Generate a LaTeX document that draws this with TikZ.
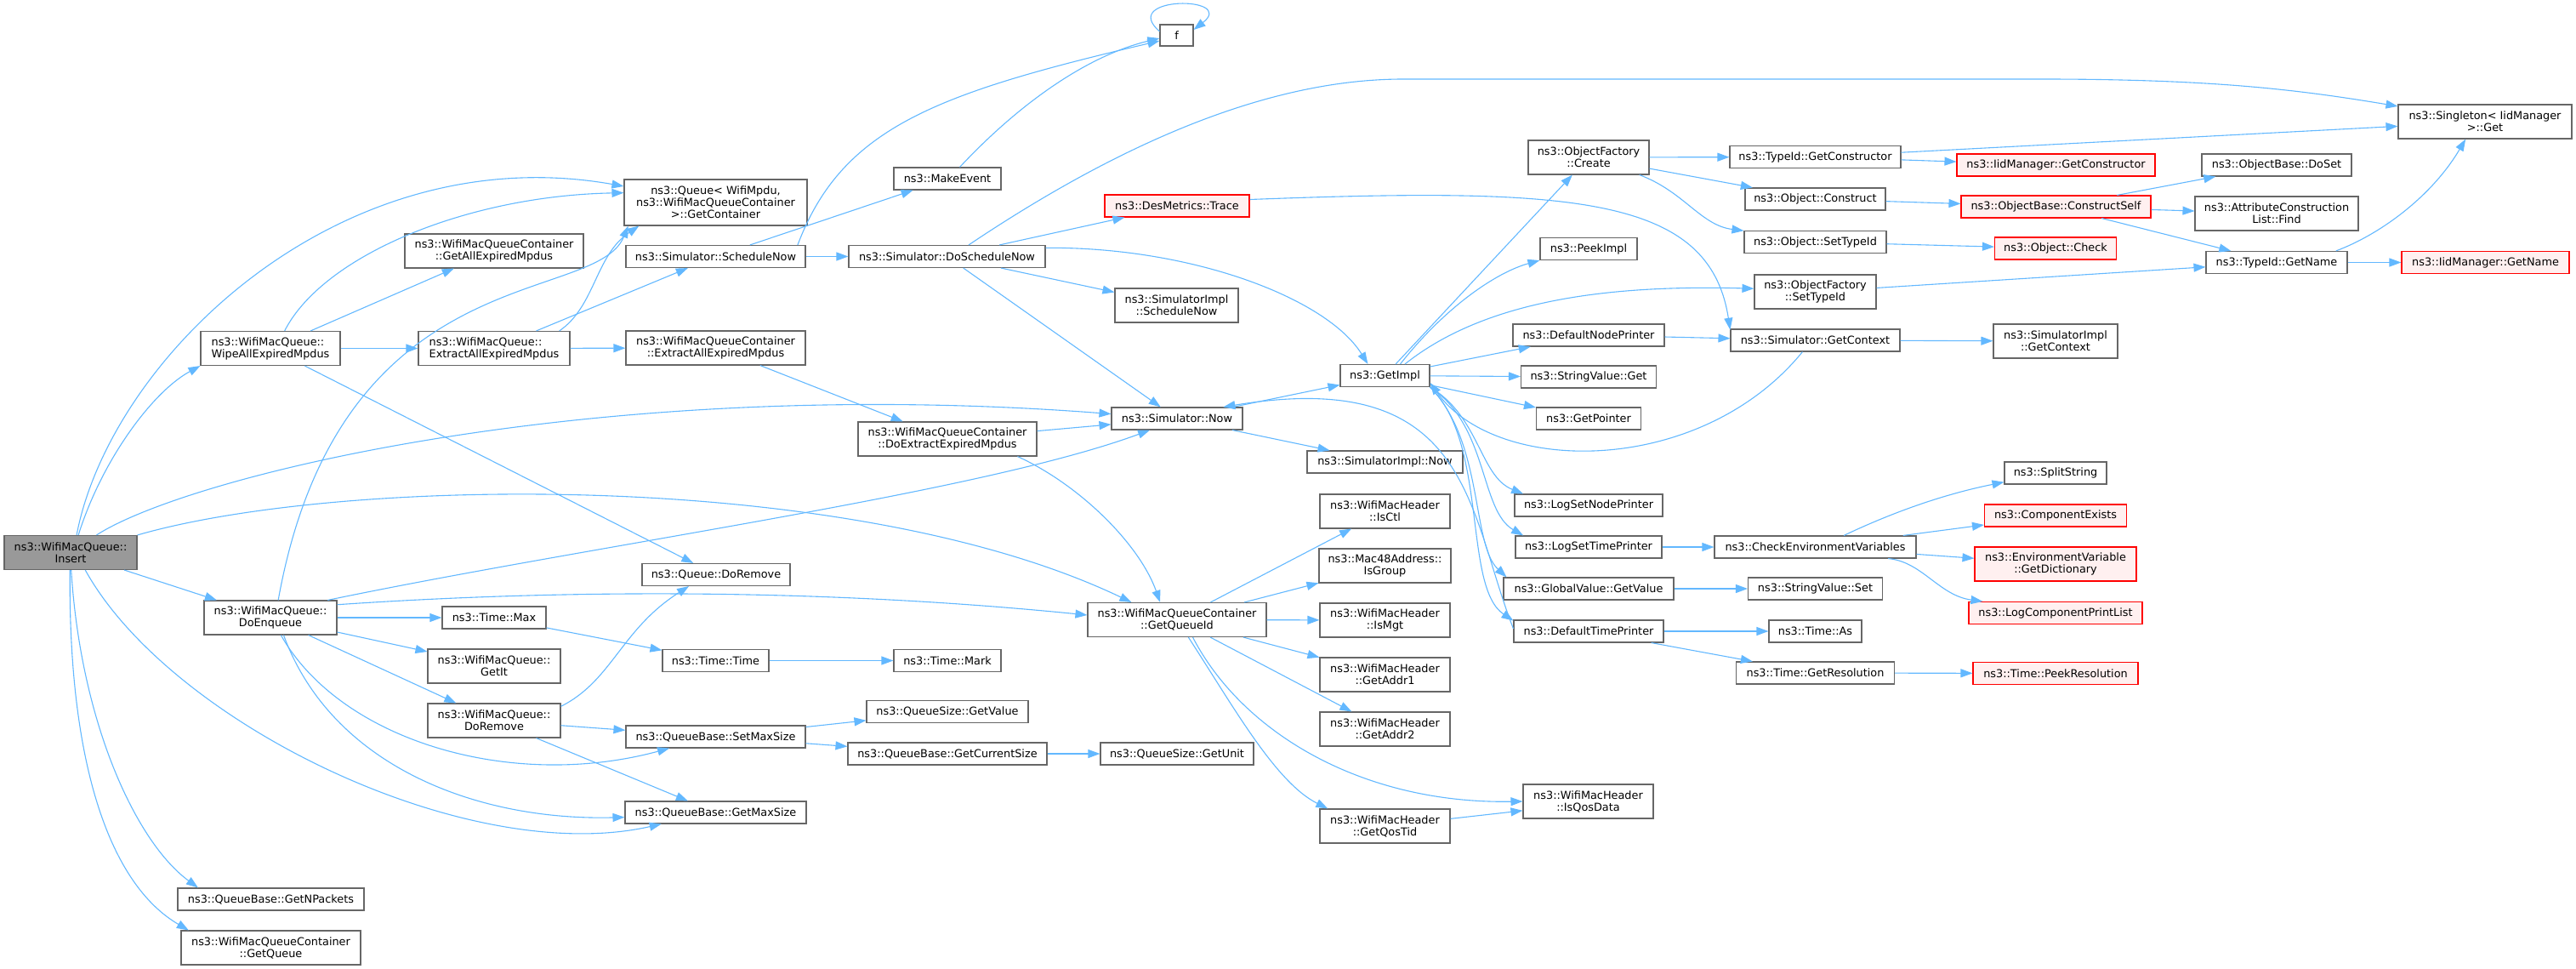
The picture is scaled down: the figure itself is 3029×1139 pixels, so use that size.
\documentclass[tikz,border=0pt]{standalone}
\usepackage{fontspec}
\setmainfont{DejaVu Sans}
\usetikzlibrary{arrows.meta}
\definecolor{edgeblue}{HTML}{63B8FF}
\definecolor{boxgray}{HTML}{666666}
\definecolor{rootgray}{HTML}{999999}
\definecolor{nodocfill}{HTML}{FFF0F0}
\newcommand{\graphfont}{\fontsize{12.85pt}{14pt}\selectfont}
\begin{document}
\begin{tikzpicture}[x=1pt, y=-1pt]
  \useasboundingbox (0,0) rectangle (3029,1139);
  \tikzstyle{every node} = [draw=boxgray, fill=white, line width=1.1pt, inner sep=0pt, align=center, minimum height=26pt, font=\graphfont]
  \tikzstyle{two} = [minimum height=40pt]
  \tikzstyle{nodoc} = [draw=red, fill=nodocfill]
  \tikzstyle{call} = [color=edgeblue, draw, line width=1.1pt, ->, >={Triangle[length=14pt, width=10pt, color=edgeblue, fill=edgeblue]}]

  \node[two, minimum width=156pt, fill=rootgray] (insert) at (83,649.5) {ns3::WifiMacQueue::\\Insert};

  \node[two, minimum width=164pt, align=left] (wipe) at (318,409.5) {ns3::WifiMacQueue::\\WipeAllExpiredMpdus};
  \node[two, minimum width=156pt] (doenqueue) at (318,726) {ns3::WifiMacQueue::\\DoEnqueue};
  \node[minimum width=219pt] (getnpackets) at (318.5,1057) {ns3::QueueBase::GetNPackets};
  \node[two, minimum width=211pt] (getqueue) at (318.5,1114) {ns3::WifiMacQueueContainer\\::GetQueue};

  \node[two, minimum width=210pt] (getallexpired) at (581,295) {ns3::WifiMacQueueContainer\\::GetAllExpiredMpdus};
  \node[two, minimum width=178pt, align=left] (extract) at (581,409.5) {ns3::WifiMacQueue::\\ExtractAllExpiredMpdus};
  \node[minimum width=122pt] (timemax) at (581,726) {ns3::Time::Max};
  \node[two, minimum width=156pt] (getit) at (581,783) {ns3::WifiMacQueue::\\GetIt};
  \node[two, minimum width=156pt] (doremove) at (581,847) {ns3::WifiMacQueue::\\DoRemove};

  \node[minimum height=54pt, minimum width=215pt] (getcontainer) at (841.5,238) {ns3::Queue< WifiMpdu,\\ ns3::WifiMacQueueContainer\\ >::GetContainer};
  \node[minimum width=211pt] (schedulenow) at (841.5,301.5) {ns3::Simulator::ScheduleNow};
  \node[two, minimum width=211pt] (cextract) at (841.5,409) {ns3::WifiMacQueueContainer\\::ExtractAllExpiredMpdus};
  \node[minimum width=174pt] (qdoremove) at (842,675.5) {ns3::Queue::DoRemove};
  \node[minimum width=125pt] (timetime) at (841.5,776.5) {ns3::Time::Time};
  \node[minimum width=211pt] (setmaxsize) at (841.5,866) {ns3::QueueBase::SetMaxSize};
  \node[minimum width=213pt] (getmaxsize) at (841.5,955) {ns3::QueueBase::GetMaxSize};

  \node[minimum width=126pt] (makeevent) at (1114,210) {ns3::MakeEvent};
  \node[minimum width=231pt] (doschedulenow) at (1113.5,301.5) {ns3::Simulator::DoScheduleNow};
  \node[two, minimum width=210pt] (doextract) at (1114,516) {ns3::WifiMacQueueContainer\\::DoExtractExpiredMpdus};
  \node[minimum width=126pt] (timemark) at (1114,776.5) {ns3::Time::Mark};
  \node[minimum width=190pt] (qsgetvalue) at (1114,836.5) {ns3::QueueSize::GetValue};
  \node[minimum width=234pt] (getcurrentsize) at (1114,886) {ns3::QueueBase::GetCurrentSize};

  \node[minimum width=39pt, minimum height=25pt] (f) at (1383.5,41.5) {f};
  \node[nodoc, minimum width=170pt] (trace) at (1384,242) {ns3::DesMetrics::Trace};
  \node[two, minimum width=145pt] (implschedulenow) at (1383.5,359) {ns3::SimulatorImpl\\::ScheduleNow};
  \node[minimum width=154pt] (now) at (1384,492) {ns3::Simulator::Now};
  \node[two, minimum width=210pt] (getqueueid) at (1384,728.5) {ns3::WifiMacQueueContainer\\::GetQueueId};
  \node[minimum width=180pt] (getunit) at (1384,886) {ns3::QueueSize::GetUnit};

  \node[minimum width=105pt] (getimpl) at (1628.5,441.5) {ns3::GetImpl};
  \node[minimum width=183pt] (implnow) at (1628.5,543) {ns3::SimulatorImpl::Now};
  \node[two, minimum width=155pt] (isgroup) at (1628.5,665) {ns3::Mac48Address::\\IsGroup};
  \foreach \n/\t/\y in {isctl/IsCtl/601, ismgt/IsMgt/729, getaddr1/GetAddr1/793, getaddr2/GetAddr2/857, getqostid/GetQosTid/971}{
    \node[two, minimum width=153pt] (\n) at (1628.5,\y) {ns3::WifiMacHeader\\::\t};
  }

  \node[two, minimum width=142pt] (create) at (1868,185) {ns3::ObjectFactory\\::Create};
  \node[minimum width=114pt] (peekimpl) at (1868,292.5) {ns3::PeekImpl};
  \node[minimum width=178pt] (nodeprinter) at (1868,394) {ns3::DefaultNodePrinter};
  \node[minimum width=159pt] (svget) at (1868,443) {ns3::StringValue::Get};
  \node[minimum width=123pt] (getpointer) at (1868,492) {ns3::GetPointer};
  \node[minimum width=174pt] (lognodeprinter) at (1868,594) {ns3::LogSetNodePrinter};
  \node[minimum width=172pt] (logtimeprinter) at (1868,643) {ns3::LogSetTimePrinter};
  \node[minimum width=200pt] (gvgetvalue) at (1868,692) {ns3::GlobalValue::GetValue};
  \node[minimum width=176pt] (timeprinter) at (1868,742) {ns3::DefaultTimePrinter};
  \node[two, minimum width=153pt] (isqosdata) at (1867.5,942) {ns3::WifiMacHeader\\::IsQosData};

  \node[minimum width=201pt] (getconstructor) at (2134.5,184.5) {ns3::TypeId::GetConstructor};
  \node[minimum width=165pt] (construct) at (2134.5,234) {ns3::Object::Construct};
  \node[minimum width=167pt] (osettypeid) at (2134.5,284.5) {ns3::Object::SetTypeId};
  \node[two, minimum width=143pt] (fsettypeid) at (2134.5,343) {ns3::ObjectFactory\\::SetTypeId};
  \node[minimum width=199pt] (getcontext) at (2134.5,400) {ns3::Simulator::GetContext};
  \node[minimum width=237pt] (checkenv) at (2134.5,643) {ns3::CheckEnvironmentVariables};
  \node[minimum width=158pt] (svset) at (2134.5,692) {ns3::StringValue::Set};
  \node[minimum width=109pt] (timeas) at (2134.5,742) {ns3::Time::As};
  \node[minimum width=186pt] (getresolution) at (2134.5,791) {ns3::Time::GetResolution};

  \node[nodoc, minimum width=233pt] (iidconstructor) at (2417.5,194) {ns3::IidManager::GetConstructor};
  \node[nodoc, minimum width=223pt] (constructself) at (2417.5,243) {ns3::ObjectBase::ConstructSelf};
  \node[nodoc, minimum width=143pt] (check) at (2417,292) {ns3::Object::Check};
  \node[two, minimum width=146pt] (implgetcontext) at (2417,401) {ns3::SimulatorImpl\\::GetContext};
  \node[minimum width=120pt] (splitstring) at (2417,556) {ns3::SplitString};
  \node[nodoc, minimum width=167pt] (compexists) at (2417,606) {ns3::ComponentExists};
  \node[nodoc, two, minimum width=190pt] (getdictionary) at (2417,663) {ns3::EnvironmentVariable\\::GetDictionary};
  \node[nodoc, minimum width=204pt] (printlist) at (2417,720.5) {ns3::LogComponentPrintList};
  \node[nodoc, minimum width=194pt] (peekresolution) at (2417,791.5) {ns3::Time::PeekResolution};

  \node[minimum width=176pt] (doset) at (2677,194) {ns3::ObjectBase::DoSet};
  \node[two, minimum width=192pt] (acfind) at (2677,251) {ns3::AttributeConstruction\\List::Find};
  \node[minimum width=166pt] (getname) at (2677,308.5) {ns3::TypeId::GetName};

  \node[two, minimum width=204pt] (singleton) at (2922,143) {ns3::Singleton< IidManager\\ >::Get};
  \node[nodoc, minimum width=197pt] (iidgetname) at (2922.5,308.5) {ns3::IidManager::GetName};

  \path[call]
  (insert) edge (doenqueue)
  (wipe) edge (getallexpired)
  (wipe) edge (extract)
  (wipe) edge (qdoremove)
  (extract) edge (cextract)
  (extract) edge (schedulenow)
  (doenqueue) edge (timemax)
  (doenqueue) edge (getit)
  (doenqueue) edge (doremove)
  (timemax) edge (timetime)
  (timetime) edge (timemark)
  (doremove) edge (setmaxsize)
  (doremove) edge (getmaxsize)
  (setmaxsize) edge (qsgetvalue)
  (setmaxsize) edge (getcurrentsize)
  (getcurrentsize) edge (getunit)
  (cextract) edge (doextract)
  (doextract) edge (now);
  \path[call]
  (schedulenow) edge (doschedulenow)
  (schedulenow) edge (makeevent)
  (doschedulenow) edge (trace)
  (doschedulenow) edge (implschedulenow)
  (doschedulenow) edge (now)
  (now) edge (getimpl)
  (now) edge (implnow);
  \path[call]
  (getimpl) edge (create)
  (getimpl) edge (nodeprinter)
  (getimpl) edge (svget)
  (getimpl) edge (getpointer)
  (create) edge (getconstructor)
  (create) edge (construct)
  (getconstructor) edge (singleton)
  (getconstructor) edge (iidconstructor)
  (construct) edge (constructself)
  (osettypeid) edge (check)
  (fsettypeid) edge (getname)
  (constructself) edge (doset)
  (constructself) edge (acfind)
  (constructself) edge (getname)
  (getname) edge (iidgetname)
  (nodeprinter) edge (getcontext)
  (getcontext) edge (implgetcontext);
  \path[call]
  (logtimeprinter) edge (checkenv)
  (checkenv) edge (compexists)
  (checkenv) edge (getdictionary)
  (gvgetvalue) edge (svset)
  (timeprinter) edge (timeas)
  (timeprinter) edge (getresolution)
  (getresolution) edge (peekresolution);
  \path[call]
  (getqueueid) edge (isctl)
  (getqueueid) edge (isgroup)
  (getqueueid) edge (ismgt)
  (getqueueid) edge (getaddr1)
  (getqueueid) edge (getaddr2)
  (getqostid) edge (isqosdata.188);

  \draw[call] (insert.71) .. controls (130,420) and (400,160) .. (getcontainer.170);
  \draw[call] (insert.66) .. controls (120,540) and (180,460) .. (wipe.south west);
  \draw[call] (insert.34) .. controls (220,560) and (700,440) .. (now.176);
  \draw[call] (insert.north east) .. controls (400,560) and (1000,550) .. (getqueueid.159);
  \draw[call] (insert.-50) .. controls (200,850) and (550,1020) .. (getmaxsize.192);
  \draw[call] (insert.-88) .. controls (95,850) and (160,990) .. (getnpackets.171);
  \draw[call] (insert.-92) .. controls (80,900) and (130,1040) .. (getqueue.168);

  \draw[call] (wipe.51) .. controls (380,300) and (550,230) .. (getcontainer.174);
  \draw[call] (extract.15) .. controls (700,360) and (700,300) .. (getcontainer.197);
  \draw[call] (doenqueue.66) .. controls (400,300) and (700,360) .. (getcontainer.195);
  \draw[call] (doenqueue.17) .. controls (700,640) and (1150,580) .. (now.203);
  \draw[call] (doenqueue.11) .. controls (700,690) and (1000,695) .. (getqueueid.177);
  \draw[call] (doenqueue.-59) .. controls (400,870) and (600,930) .. (setmaxsize.194);
  \draw[call] (doenqueue.-53) .. controls (390,900) and (560,965) .. (getmaxsize.183);
  \draw[call] (doremove.12) .. controls (720,800) and (730,740) .. (qdoremove.203);
  \draw[call] (doextract.-14) .. controls (1270,570) and (1340,640) .. (getqueueid.134);

  \draw[call] (schedulenow.8) .. controls (990,150) and (1100,110) .. (f.198);
  \draw[call] (makeevent.43) .. controls (1200,120) and (1280,65) .. (f.190);
  \draw[call] (f.167) .. controls (1315,-5) and (1455,-5) .. (f.18);
  \draw[call] (doschedulenow.28) .. controls (1300,180) and (1480,93) .. (1650,93) -- (2400,93) .. controls (2600,93) and (2700,105) .. (singleton.170);
  \draw[call] (doschedulenow.5) .. controls (1400,290) and (1560,350) .. (getimpl.146);
  \draw[call] (trace.5) .. controls (1850,220) and (2010,230) .. (getcontext.173);
  \draw[call] (timeprinter.178) .. controls (1725,600) and (1730,430) .. (now.14);
  \draw[call] (getcontext.222) .. controls (2000,560) and (1760,560) .. (getimpl.-9);

  \draw[call] (getimpl.37) .. controls (1700,360) and (1760,320) .. (peekimpl.south west);
  \draw[call] (getimpl.30) .. controls (1750,350) and (1900,335) .. (fsettypeid.177);
  \draw[call] (getimpl.south east) .. controls (1740,490) and (1740,560) .. (lognodeprinter.170);
  \draw[call] (getimpl.south east) .. controls (1750,500) and (1740,600) .. (logtimeprinter.170);
  \draw[call] (getimpl.south east) .. controls (1745,520) and (1730,640) .. (gvgetvalue.172);
  \draw[call] (getimpl.south east) .. controls (1750,520) and (1720,690) .. (timeprinter.172);

  \draw[call] (create.-19) .. controls (1980,225) and (2000,265) .. (osettypeid.171);
  \draw[call] (getname.11) .. controls (2800,275) and (2860,230) .. (singleton.222);
  \draw[call] (checkenv.22) .. controls (2230,600) and (2290,580) .. (splitstring.190);
  \draw[call] (checkenv.-9) .. controls (2260,660) and (2280,700) .. (printlist.171);
  \draw[call] (getqueueid.-57) .. controls (1450,830) and (1500,920) .. (getqostid.163);
  \draw[call] (getqueueid.-48) .. controls (1460,860) and (1600,945) .. (isqosdata.west);
\end{tikzpicture}
\end{document}
